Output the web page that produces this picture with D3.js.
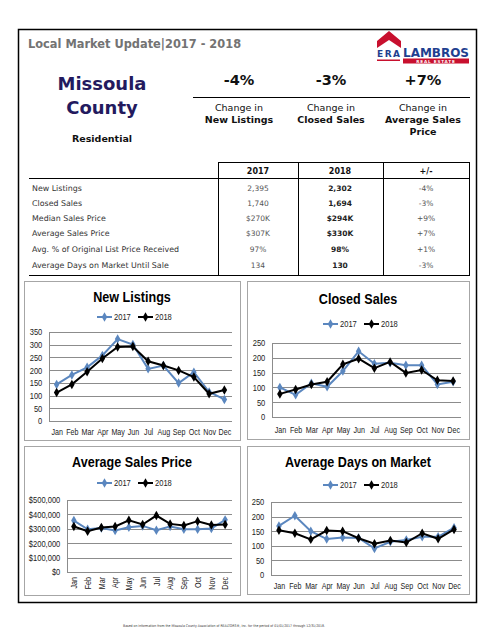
<!DOCTYPE html>
<html><head><meta charset="utf-8">
<script src="https://cdn.jsdelivr.net/npm/d3@7"></script>
<style>body{margin:0;background:#fff}svg{display:block}</style>
</head><body>
<svg id="c" width="495" height="640"></svg>
<script>
const months = ["Jan","Feb","Mar","Apr","May","Jun","Jul","Aug","Sep","Oct","Nov","Dec"];
const seriesNames = ["2017","2018"];
const newListings2017 = [144,181,211,258,322,301,205,218,149,192,114,85];
const newListings2018 = [112,144,194,246,291,293,235,218,199,173,107,122];
const closedSales2017 = [100,75,114,102,155,222,180,183,175,175,110,119];
const closedSales2018 = [78,93,110,119,178,197,165,186,149,159,124,122];
const avgPrice2017 = [357000,297000,306000,288000,311000,320000,290000,316000,297000,297000,302000,362000];
const avgPrice2018 = [316000,283000,309000,316000,359000,330000,392000,334000,323000,353000,327000,330000];
const daysOnMarket2017 = [168,203,150,123,128,127,91,114,120,131,131,162];
const daysOnMarket2018 = [153,143,122,152,150,126,107,118,111,143,124,156];

const changeValues = ["-4%","-3%","+7%"];
const changeLabels = [["Change in","New Listings"],["Change in","Closed Sales"],["Change in","Average Sales","Price"]];
const tableHeaders = ["2017","2018","+/-"];
const tableRows = ["New Listings","Closed Sales","Median Sales Price","Average Sales Price","Avg. % of Original List Price Received","Average Days on Market Until Sale"];
const table2017 = ["2,395","1,740","$270K","$307K","97%","134"];
const table2018 = ["2,302","1,694","$294K","$330K","98%","130"];
const tableDiff = ["-4%","-3%","+9%","+7%","+1%","-3%"];

const svg = d3.select("#c");
const VF = "'DejaVu Sans', Verdana, sans-serif";
const CF = "'Liberation Sans',Arial,sans-serif";
const SX = 0.84; // horizontal condensing for Calibri-like text
const BLUE = "#5b87bf";

// outer border
svg.append("rect").attr("x",18.5).attr("y",29.5).attr("width",458).attr("height",573)
  .attr("fill","none").attr("stroke","#000").attr("stroke-width",1.5);

svg.append("text").attr("x",28).attr("y",48).attr("font-family",VF).attr("font-weight","bold")
  .attr("font-size",11.4).attr("fill","#737373").text("Local Market Update|2017 - 2018");

// logo
const logo = svg.append("g");
logo.append("polygon").attr("points","377,41 389,31 401,41 401,48 389,40 377,48").attr("fill","#c8102e");
logo.append("text").attr("x",377).attr("y",57).attr("font-family",VF).attr("font-weight","bold")
  .attr("font-size",9).attr("fill","#1f3f8f").attr("textLength",23).text("ERA");
logo.append("rect").attr("x",377).attr("y",59.5).attr("width",23).attr("height",1.5).attr("fill","#c8102e");
logo.append("text").attr("x",403).attr("y",57).attr("font-family",VF).attr("font-weight","bold")
  .attr("font-size",12).attr("fill","#1f3f8f").attr("textLength",66).attr("lengthAdjust","spacingAndGlyphs").text("LAMBROS");
logo.append("rect").attr("x",403).attr("y",58.5).attr("width",66).attr("height",5).attr("fill","#c8102e");
logo.append("text").attr("x",436).attr("y",62.6).attr("text-anchor","middle").attr("font-family",VF).attr("font-weight","bold")
  .attr("font-size",4.2).attr("fill","#fff").attr("letter-spacing",0.8).text("REAL ESTATE");

// county
svg.append("text").attr("x",102).attr("y",90).attr("text-anchor","middle").attr("font-family",VF)
  .attr("font-weight","bold").attr("font-size",18).attr("fill","#231a5e").text("Missoula");
svg.append("text").attr("x",102).attr("y",114).attr("text-anchor","middle").attr("font-family",VF)
  .attr("font-weight","bold").attr("font-size",18).attr("fill","#231a5e").text("County");
svg.append("text").attr("x",102).attr("y",142).attr("text-anchor","middle").attr("font-family",VF)
  .attr("font-weight","bold").attr("font-size",9.5).attr("fill","#111").text("Residential");

const changeX = [239,331,423];
changeValues.forEach((v,i)=>{
  svg.append("text").attr("x",changeX[i]).attr("y",85).attr("text-anchor","middle").attr("font-family",VF)
    .attr("font-weight","bold").attr("font-size",14.5).attr("fill","#111").text(v);
  changeLabels[i].forEach((l,j)=>{
    svg.append("text").attr("x",changeX[i]).attr("y",111+j*12).attr("text-anchor","middle").attr("font-family",VF)
      .attr("font-weight",j===0?"normal":"bold").attr("font-size",9.5).attr("fill","#111").text(l);
  });
});
svg.append("line").attr("x1",193).attr("x2",470).attr("y1",97.5).attr("y2",97.5).attr("stroke","#000").attr("stroke-width",1.2);

// table
const colL = [218,298,383,469];
const tb = svg.append("g").attr("stroke","#000").attr("stroke-width",1);
tb.append("line").attr("x1",218).attr("x2",469).attr("y1",162.5).attr("y2",162.5);
tb.append("line").attr("x1",29).attr("x2",469).attr("y1",178.5).attr("y2",178.5);
tb.append("line").attr("x1",29).attr("x2",469).attr("y1",275.5).attr("y2",275.5);
colL.forEach(x=>tb.append("line").attr("x1",x+0.5).attr("x2",x+0.5).attr("y1",162).attr("y2",276));
const colC = [258,340,426];
tableHeaders.forEach((h,i)=>svg.append("text").attr("x",colC[i]).attr("y",174).attr("text-anchor","middle")
  .attr("font-family",VF).attr("font-weight","bold").attr("font-size",8).attr("fill","#111").text(h));
const rowY = [191,206,221,236,252,268];
tableRows.forEach((r,i)=>{
  svg.append("text").attr("x",32).attr("y",rowY[i]).attr("font-family",VF).attr("font-size",7.9).attr("fill","#333").text(r);
  svg.append("text").attr("x",colC[0]).attr("y",rowY[i]).attr("text-anchor","middle").attr("font-family",VF).attr("font-size",7.5).attr("fill","#555").text(table2017[i]);
  svg.append("text").attr("x",colC[1]).attr("y",rowY[i]).attr("text-anchor","middle").attr("font-family",VF).attr("font-weight","bold").attr("font-size",7.5).attr("fill","#222").text(table2018[i]);
  svg.append("text").attr("x",colC[2]).attr("y",rowY[i]).attr("text-anchor","middle").attr("font-family",VF).attr("font-size",7.5).attr("fill","#555").text(tableDiff[i]);
});

// condensed text helper
function ctext(parent, x, y, str, opts){
  const t = parent.append("text").attr("transform",`translate(${x},${y}) scale(${SX},1)`)
    .attr("font-family",CF).attr("font-size",opts.size).attr("fill",opts.fill||"#222")
    .attr("text-anchor",opts.anchor||"start").text(str);
  if(opts.bold) t.attr("font-weight","bold");
  return t;
}

// charts
const charts = [
  {title:"New Listings", d17:newListings2017, d18:newListings2018, max:350, step:50, fmt:d3.format("d"),
   box:[24,281,240,440], px:[49,232], py:[421,332], titleY:302, legY:317, labY:435, rot:false},
  {title:"Closed Sales", d17:closedSales2017, d18:closedSales2018, max:250, step:50, fmt:d3.format("d"),
   box:[247,281,469,439], px:[272,461], py:[417,343], titleY:304, legY:324, labY:433, rot:false},
  {title:"Average Sales Price", d17:avgPrice2017, d18:avgPrice2018, max:500000, step:100000, fmt:d=>"$"+d3.format(",")(d),
   box:[24,446,240,595], px:[67,232], py:[572,500], titleY:467, legY:483, labY:577, rot:true},
  {title:"Average Days on Market", d17:daysOnMarket2017, d18:daysOnMarket2018, max:250, step:50, fmt:d3.format("d"),
   box:[247,446,469,594], px:[271,462], py:[575,502], titleY:467, legY:485, labY:589, rot:false}
];

charts.forEach(c=>{
  const g = svg.append("g");
  g.append("rect").attr("x",c.box[0]+0.5).attr("y",c.box[1]+0.5).attr("width",c.box[2]-c.box[0]).attr("height",c.box[3]-c.box[1])
    .attr("fill","#fff").attr("stroke","#a6a6a6").attr("stroke-width",1);
  const cx = (c.box[0]+c.box[2])/2;
  ctext(g, cx, c.titleY, c.title, {size:15, bold:true, anchor:"middle", fill:"#000"});
  const x = d3.scalePoint().domain(months).range(c.px).padding(0.5);
  const y = d3.scaleLinear().domain([0,c.max]).range(c.py);
  const ticks = d3.range(0,c.max+1,c.step);
  // gridlines
  g.append("g").selectAll("line").data(ticks.slice(1)).join("line")
    .attr("x1",c.px[0]).attr("x2",c.px[1]).attr("y1",d=>Math.round(y(d))+0.5).attr("y2",d=>Math.round(y(d))+0.5)
    .attr("stroke","#8c8c8c").attr("stroke-width",1);
  // y axis
  const ya = g.append("g").attr("transform",`translate(${c.px[0]},0)`)
    .call(d3.axisLeft(y).tickValues(ticks).tickFormat(c.fmt).tickSize(0).tickPadding(8));
  ya.select(".domain").attr("stroke","#8c8c8c");
  ya.selectAll("text").attr("font-family",CF).attr("font-size",9).attr("fill","#222")
    .attr("transform",`scale(${SX},1)`);
  g.append("line").attr("x1",c.px[0]).attr("x2",c.px[1]).attr("y1",Math.round(c.py[0])+0.5).attr("y2",Math.round(c.py[0])+0.5)
    .attr("stroke","#8c8c8c");
  // x axis
  const xa = g.append("g").attr("transform",`translate(0,${c.py[0]})`).call(d3.axisBottom(x).tickSize(0));
  xa.select(".domain").remove();
  xa.selectAll("text").attr("font-family",CF).attr("font-size",8.5).attr("fill","#222");
  if(c.rot){
    xa.selectAll("text").attr("x",0).attr("y",0).attr("dy","0.32em").attr("text-anchor","end")
      .attr("transform",`translate(0,${c.labY-c.py[0]}) rotate(-90) scale(${SX},1)`);
  } else {
    xa.selectAll("text").attr("y",0).attr("dy",0).attr("transform",`translate(0,${c.labY-c.py[0]}) scale(${SX},1)`);
  }
  const line = d3.line().x((d,i)=>x(months[i])).y(d=>y(d));
  const sym = d3.symbol().type(d3.symbolDiamond).size(26);
  [[c.d17,BLUE],[c.d18,"#000"]].forEach(([data,col])=>{
    g.append("path").datum(data).attr("d",line).attr("fill","none").attr("stroke",col).attr("stroke-width",2);
    g.append("g").selectAll("path").data(data).join("path").attr("d",sym)
      .attr("transform",(d,i)=>`translate(${x(months[i])},${y(d)})`).attr("fill",col);
  });
  // legend
  const lg = g.append("g").attr("transform",`translate(${cx-35},${c.legY})`);
  [[BLUE,0],["#000",41]].forEach(([col,off],k)=>{
    lg.append("line").attr("x1",off).attr("x2",off+15).attr("y1",0).attr("y2",0).attr("stroke",col).attr("stroke-width",2);
    lg.append("path").attr("d",sym).attr("transform",`translate(${off+7.5},0)`).attr("fill",col);
    ctext(lg, off+17, 3, seriesNames[k], {size:9});
  });
});

svg.append("text").attr("x",224).attr("y",627).attr("text-anchor","middle").attr("font-family",VF)
  .attr("font-size",3.6).attr("fill","#333").attr("textLength",202).attr("lengthAdjust","spacingAndGlyphs")
  .text("Based on information from the Missoula County Association of REALTORS®, Inc. for the period of 01/01/2017 through 12/31/2018.");
</script>
</body></html>
